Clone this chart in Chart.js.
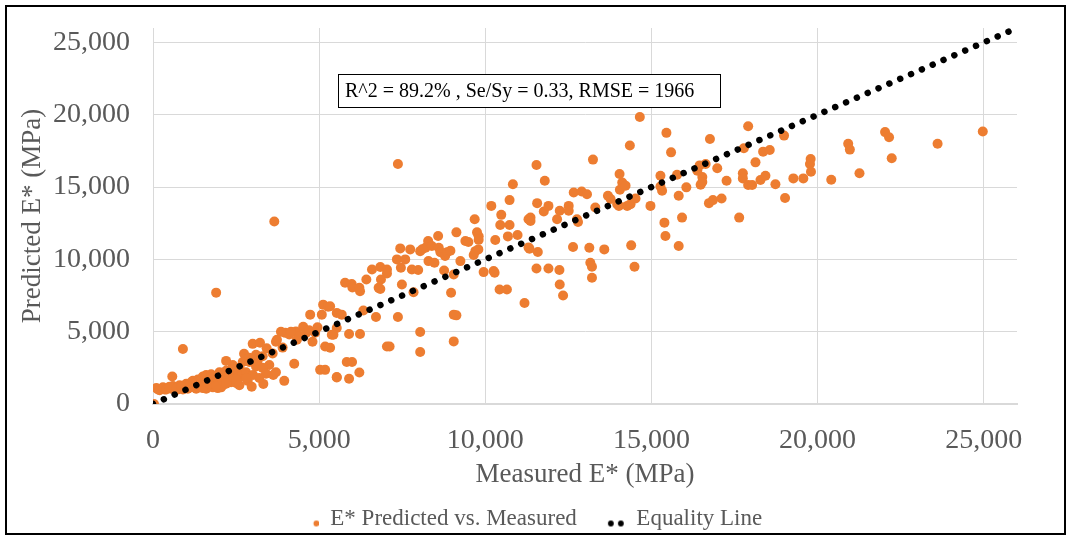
<!DOCTYPE html>
<html>
<head>
<meta charset="utf-8">
<script src="https://cdn.jsdelivr.net/npm/chart.js@4.4.0/dist/chart.umd.min.js"></script>
<style>
  html, body { margin: 0; padding: 0; background: #fff; }
  #wrap { width: 1071px; height: 540px; }
</style>
</head>
<body>
<div id="wrap"><canvas id="chart" width="1071" height="540"></canvas></div>
<script>
// measured vs predicted E* (MPa)
const measured = [
  30, 150, 250, 350, 450, 550, 650, 750, 850, 950, 1050, 1150, 1250, 1350, 1450, 1550, 1650, 1750, 1850, 1950,
  2050, 1150, 1350, 1500, 1600, 1700, 1800, 1900, 2000, 2100, 1600, 1800, 1950, 2100, 600, 800, 1000, 1200, 580, 900,
  1900, 2200, 2250, 2350, 2450, 2500, 2600, 2650, 2740, 2800, 2850, 2970, 3000, 3010, 3100, 3220, 3320, 3420, 3500, 3620,
  3700, 3730, 3950, 3980, 4100, 4250, 4300, 4330, 4520, 4730, 4800, 4880, 5030, 5180, 5080, 5120, 5270, 5180, 5380, 5530,
  2200, 2400, 2700, 3300, 3600, 3900, 3150, 2900, 3700, 3650, 7370, 4400, 4600, 4700, 4950, 3850, 4150, 100, 200, 300,
  400, 500, 700, 900, 1100, 1300, 1500, 1700, 1900, 2100, 2300, 2000, 1750, 1400, 1250, 1050, 850, 2200, 2500, 2600,
  2800, 2400, 2900, 3100, 3300, 3400, 3200,
  5330, 5530, 5680, 6330, 6710, 7370, 5530, 5430, 5900, 6230, 8040, 8040, 7040, 7120, 5830, 5990, 5530, 5900, 6210, 5330,
  5780, 5980, 6000, 6210, 6230, 6420, 6590, 6790, 6840, 6840, 6860, 7040, 7040, 7340, 7440, 7460, 7490, 7590, 7740, 7790,
  7840, 7980, 8040, 8100, 8200, 8280, 8290, 8390, 8470, 8580, 8600, 8650, 8760, 8790, 8850, 8950, 8970, 9050, 9050, 9130,
  9050, 9130, 9250, 9400, 9490, 9650, 9680, 9700, 9750, 9790, 9800, 9800, 9950, 10180, 10250, 10280, 10300, 10430, 10450, 10480,
  10650, 10680, 10730, 10730, 10830, 10970, 11180, 11300, 11300,
  11330, 11360, 11360, 11540, 11540, 11560, 11580, 11760, 11790, 11900, 11900, 12160, 12230, 12240, 12240, 12340, 12510, 12510, 12640, 12660,
  12760, 12790, 12900, 13060, 13130, 13160, 13210, 13210, 13240, 13310, 13580, 13690, 13770, 13970, 14020, 14040, 14050, 14120, 14220, 14270,
  14350, 14370, 14390, 14490, 14520, 14650, 14970, 15270, 15270, 15320, 15390, 15420, 15450, 15590, 15770, 15820, 15820, 15920, 16050, 16380,
  16450, 16480, 16530, 16530, 16630, 16730, 16760, 16850, 16980, 17110, 17260, 17640, 17750, 17750, 17780, 17910, 17910, 18030, 18130, 18280,
  18360, 18430, 18560, 18730, 18990, 19020, 19270, 19570, 19770, 19790, 19800, 20410, 20920, 20970, 21260, 22030, 22150, 22230, 23610, 24970
];
const predicted = [
  0, 1000, 1050, 1000, 1100, 1050, 1150, 1000, 1100, 1200, 1050, 1250, 1150, 1350, 1200, 1450, 1250, 1550, 1300, 1450,
  1150, 1500, 1700, 1900, 2000, 1750, 1900, 1650, 1800, 2000, 1050, 1150, 1100, 1300, 1250, 1300, 1400, 1600, 1900, 3800,
  7700, 2980, 1700, 1500, 2200, 1450, 2500, 1900, 3470, 2200, 1600, 1200, 4160, 2010, 2600, 4230, 1390, 3860, 2700, 2010,
  2200, 4440, 1600, 4920, 4800, 2780, 5020, 4440, 5340, 6180, 4300, 4930, 2360, 2360, 6180, 6870, 6730, 3980, 4790, 1870,
  2300, 2700, 2900, 3300, 3500, 3900, 3000, 3200, 4300, 12620, 16600, 4700, 4900, 5100, 5300, 5000, 5000, 1100, 950, 1150,
  1000, 1200, 1050, 1000, 1150, 1050, 1100, 1400, 1250, 1600, 1900, 2200, 2050, 1550, 1400, 1300, 1200, 1400, 1700, 1300,
  1800, 2400, 2900, 3400, 2500, 2100, 1800,
  6760, 6300, 6180, 6460, 6020, 6020, 5260, 4790, 4840, 4840, 4980, 3590, 3980, 3980, 2900, 2900, 1830, 1740, 2180, 3890,
  8380, 8300, 8050, 8030, 7800, 8610, 9300, 8030, 7950, 9470, 8610, 9300, 9020, 10000, 10760, 9420, 8260, 10000, 10690, 9300,
  7730, 9260, 10570, 10700, 10800, 11270, 9880, 10920, 9770, 11620, 10800, 10500, 9230, 10230, 10500, 10600, 7690, 8960, 6180, 6130,
  4330, 11870, 9880, 11270, 11200, 10300, 12780, 10570, 11870, 10690, 11600, 11350, 9120, 13700, 9200, 9070, 11340, 7920, 12380, 13080,
  7920, 11590, 12380, 14100, 15200, 11690, 6990, 10830, 12780,
  10740, 12890, 12660, 16530, 9370, 13890, 10510, 13310, 15440, 13700, 9370, 12780, 9260, 13360, 8260, 7500, 13700, 13360, 10860, 14630,
  12780, 12590, 14700, 14510, 10810, 9770, 9490, 8730, 16900, 13590, 10690, 14400, 14170, 13820, 13700, 15900, 14810, 15320, 15100, 13700,
  17870, 13820, 10970, 9490, 14210, 19840, 13700, 15780, 15040, 14740, 12540, 11620, 18750, 17400, 15850, 14400, 10920, 12890, 14980, 16130,
  16500, 15160, 15700, 15350, 16600, 13890, 18330, 14100, 16300, 14210, 15440, 12890, 15950, 15600, 17690, 19210, 15140, 15140, 16710, 15490,
  17450, 15780, 17570, 15190, 18560, 14240, 15600, 15600, 16600, 16940, 16060, 15510, 17990, 17590, 15950, 18800, 18450, 16990, 17990, 18840
];
const equalityX = [0, 26000];
const equalityY = [0, 26000];
const axisTicks = [0, 5000, 10000, 15000, 20000, 25000];
const noteText = 'R^2 = 89.2% , Se/Sy = 0.33, RMSE = 1966';

const serif = "'Liberation Serif', 'Times New Roman', serif";
const grey = '#595959';
const orange = '#ED7D31';

const points = measured.map((m, i) => ({ x: m, y: predicted[i] }));
const eqLine = equalityX.map((v, i) => ({ x: v, y: equalityY[i] }));

// little canvases used as legend markers
function legendMark(dots, color) {
  const c = document.createElement('canvas');
  c.width = 36; c.height = 24;
  const g = c.getContext('2d');
  g.fillStyle = color;
  dots.forEach(cx => { g.beginPath(); g.arc(cx, 17, 2.9, 0, Math.PI * 2); g.fill(); });
  return c;
}
const legendMarks = [legendMark([33.5], orange), legendMark([22, 32], '#000')];

const setTicks = s => { s.ticks = axisTicks.map(v => ({ value: v })); };

const frame = {
  id: 'frame',
  beforeDraw(chart) {
    const ctx = chart.ctx;
    ctx.save();
    ctx.fillStyle = '#fff';
    ctx.fillRect(0, 0, chart.width, chart.height);
    ctx.restore();
  },
  afterDraw(chart) {
    const ctx = chart.ctx;
    ctx.save();
    ctx.strokeStyle = '#000';
    ctx.lineWidth = 2;
    ctx.strokeRect(6, 6, chart.width - 12, chart.height - 12);
    ctx.restore();
  }
};

const noteBox = {
  id: 'noteBox',
  afterDatasetsDraw(chart) {
    const { ctx, chartArea } = chart;
    const x = chartArea.left + 185, y = chartArea.top + 46, w = 382, h = 33;
    ctx.save();
    ctx.fillStyle = '#fff';
    ctx.fillRect(x, y, w, h);
    ctx.strokeStyle = '#000';
    ctx.lineWidth = 1;
    ctx.strokeRect(x + 0.5, y + 0.5, w, h);
    ctx.fillStyle = '#000';
    ctx.font = '20px ' + serif;
    ctx.textBaseline = 'middle';
    ctx.fillText(noteText, x + 7, y + h / 2 + 1);
    ctx.restore();
  }
};

new Chart(document.getElementById('chart'), {
  type: 'scatter',
  data: {
    datasets: [
      {
        label: 'E* Predicted vs. Measured',
        data: points,
        backgroundColor: orange,
        borderColor: orange,
        borderWidth: 0,
        pointRadius: 5,
        order: 1
      },
      {
        type: 'line',
        label: 'Equality Line',
        data: eqLine,
        borderColor: '#000',
        borderWidth: 6.5,
        borderDash: [0.01, 11.8],
        borderCapStyle: 'round',
        pointRadius: 0,
        pointHoverRadius: 0,
        fill: false,
        order: 0
      }
    ]
  },
  options: {
    responsive: false,
    animation: false,
    devicePixelRatio: 1,
    layout: { padding: { left: 5, right: 31, top: 28, bottom: 0 } },
    plugins: {
      tooltip: { enabled: false },
      legend: {
        position: 'bottom',
        labels: {
          usePointStyle: true,
          pointStyleWidth: 36,
          padding: 12,
          color: grey,
          font: { family: serif, size: 23 },
          sort: (a, b) => a.datasetIndex - b.datasetIndex,
          generateLabels(chart) {
            const items = Chart.defaults.plugins.legend.labels.generateLabels(chart);
            items.forEach(it => { it.pointStyle = legendMarks[it.datasetIndex]; });
            return items;
          }
        }
      }
    },
    scales: {
      x: {
        type: 'linear',
        min: 0,
        max: 26000,
        afterBuildTicks: setTicks,
        afterFit: s => { s.height = 91; s.paddingLeft = 0; s.paddingRight = 0; },
        ticks: {
          padding: 20,
          maxRotation: 0,
          autoSkip: false,
          color: grey,
          font: { family: serif, size: 28 },
          callback: v => v.toLocaleString('en-US')
        },
        grid: { color: '#d9d9d9', drawTicks: false },
        border: { color: '#d9d9d9', width: 2 },
        title: {
          display: true,
          text: 'Measured E* (MPa)',
          color: grey,
          font: { family: serif, size: 27 },
          padding: { top: 4, bottom: 4 }
        }
      },
      y: {
        type: 'linear',
        min: 0,
        max: 26000,
        afterBuildTicks: setTicks,
        afterFit: s => { s.width = 148; s.paddingTop = 0; s.paddingBottom = 0; },
        ticks: {
          padding: 23,
          autoSkip: false,
          color: grey,
          font: { family: serif, size: 28 },
          callback: v => v.toLocaleString('en-US')
        },
        grid: { color: '#d9d9d9', drawTicks: false },
        border: { color: '#d9d9d9', width: 1 },
        title: {
          display: true,
          text: 'Predicted E* (MPa)',
          color: grey,
          font: { family: serif, size: 27 },
          padding: { top: 12, bottom: 4 }
        }
      },
      yRight: {
        axis: 'y',
        position: 'right',
        display: true,
        grid: { display: false },
        border: { display: false },
        ticks: { display: false },
        afterFit: s => { s.width = 23; s.paddingTop = 0; s.paddingBottom = 0; }
      }
    }
  },
  plugins: [frame, noteBox]
});
</script>
</body>
</html>
